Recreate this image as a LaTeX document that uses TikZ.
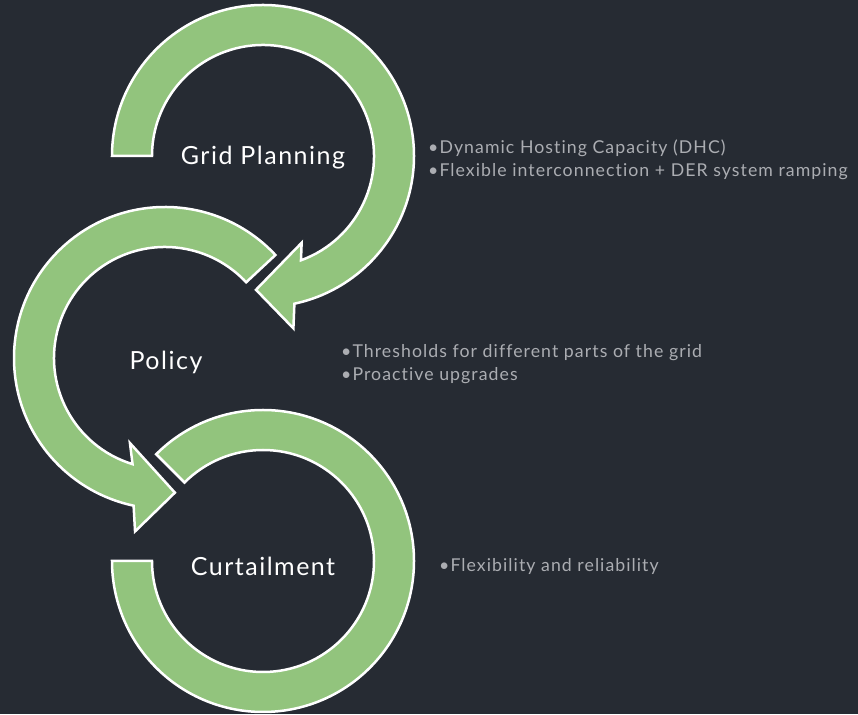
\documentclass[tikz,border=0pt]{standalone}
\usepackage{fontspec}
\setmainfont{Lato}
\newfontfamily\slidefont[LetterSpace=6,Ligatures=NoCommon]{Lato}
\usepackage{xcolor}
\usepackage{tikz}
\definecolor{slide}{HTML}{262B33}
\definecolor{leaf}{HTML}{92C47D}
\definecolor{note}{HTML}{ABADB2}
\tikzstyle{band} = [fill=leaf,draw=white,line width=2.5pt,line join=miter]
\tikzstyle{stage} = [text=white,font=\slidefont\fontsize{25}{30}\selectfont]
\tikzstyle{notes} = [anchor=west,text=note,align=left,inner sep=0pt,font=\slidefont\fontsize{17.7}{23}\selectfont]

\begin{document}
\begin{tikzpicture}[x=1pt,y=1pt]
	% Background:
	% The dark slide is one filled rectangle, which also fixes the size of the page
	\fill [slide] (0,0) rectangle (858,714);
	\useasboundingbox (0,0) rectangle (858,714);

	% Rings:
	% Each ring is an outer arc, an optional arrow head and an inner arc back, drawn in polar coordinates around its centre
	\begin{scope}[shift={(263,558)}]
		\draw [band] (180:151) arc [start angle=180, end angle=-78, radius=151]
			-- (-80:175) -- (-93:134) -- (-66:95) -- (-70:111)
			arc [start angle=-70, end angle=180, radius=111] -- cycle;
	\end{scope}
	\begin{scope}[shift={(165,356)}]
		\draw [band] (43:151) arc [start angle=43, end angle=258, radius=151]
			-- (260.2:176) -- (274.2:135) -- (247.6:92) -- (253:111)
			arc [start angle=253, end angle=43, radius=111] -- cycle;
	\end{scope}
	\begin{scope}[shift={(263,153)}]
		\draw [band] (135:151) arc [start angle=135, end angle=-180, radius=151]
			-- (180:111) arc [start angle=-180, end angle=135, radius=111] -- cycle;
	\end{scope}

	% Stage names in the middle of the rings:
	\node [stage] (grid)   at (263,556) {Grid Planning};
	\node [stage] (policy) at (166,352) {Policy};
	\node [stage] (curt)   at (263,148) {Curtailment};

	% Notes beside each stage:
	\node [notes] (dhc)    at (428,554) {•Dynamic Hosting Capacity (DHC)\\•Flexible interconnection + DER system ramping};
	\node [notes] (thresh) at (341,350) {•Thresholds for different parts of the grid\\•Proactive upgrades};
	\node [notes] (flex)   at (439,147) {•Flexibility and reliability};
\end{tikzpicture}
\end{document}
